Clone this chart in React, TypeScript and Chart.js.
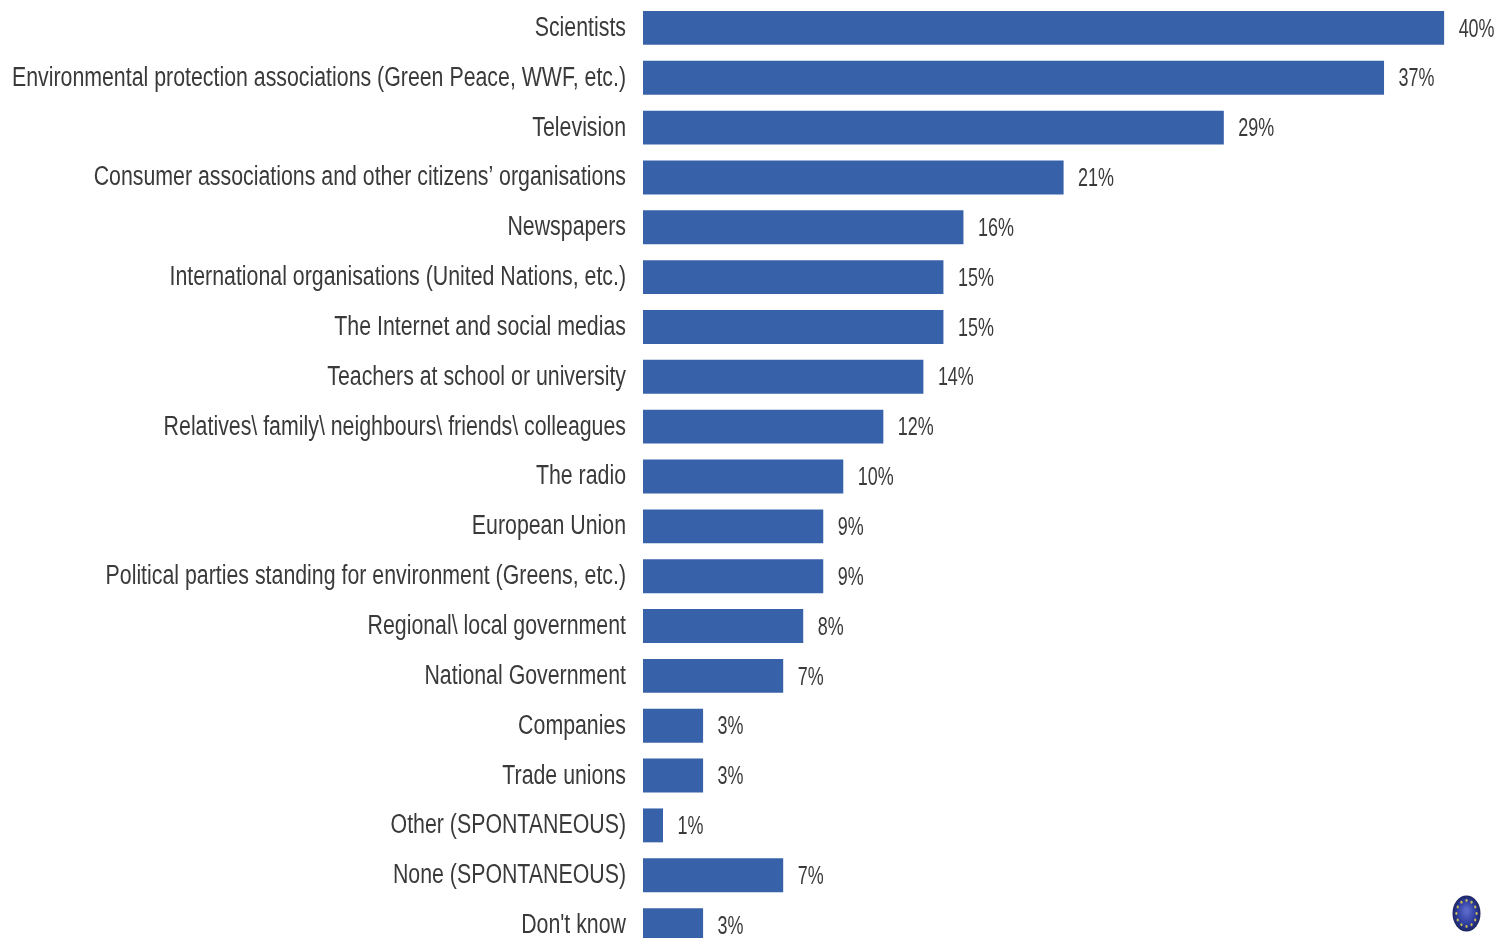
import React, { useEffect, useRef } from "react";
import { Chart, registerables } from "chart.js";
Chart.register(...registerables);

const categories = ["Scientists","Environmental protection associations (Green Peace, WWF, etc.)","Television","Consumer associations and other citizens’ organisations","Newspapers","International organisations (United Nations, etc.)","The Internet and social medias","Teachers at school or university","Relatives\\ family\\ neighbours\\ friends\\ colleagues","The radio","European Union","Political parties standing for environment (Greens, etc.)","Regional\\ local government","National Government","Companies","Trade unions","Other (SPONTANEOUS)","None (SPONTANEOUS)","Don't know"];
const values = [40,37,29,21,16,15,15,14,12,10,9,9,8,7,3,3,1,7,3];
const FONT = "'Liberation Sans', Arial, sans-serif";
const TEXT = "#3a3a3a";

const labelsPlugin = {
  id: "valueLabels",
  afterDatasetsDraw(chart: any) {
    const { ctx } = chart;
    const meta = chart.getDatasetMeta(0);
    const yScale = chart.scales.y;
    ctx.save();
    ctx.fillStyle = TEXT;
    ctx.textBaseline = "middle";
    ctx.font = `26px ${FONT}`;
    ctx.textAlign = "left";
    meta.data.forEach((bar: any, i: number) => {
      ctx.save();
      ctx.translate(bar.x + 14.5, bar.y + 1.5);
      ctx.scale(0.69, 1);
      ctx.fillText(values[i] + "%", 0, 0);
      ctx.restore();
    });
    ctx.font = `27px ${FONT}`;
    ctx.textAlign = "right";
    categories.forEach((label, i) => {
      ctx.save();
      ctx.translate(626, yScale.getPixelForTick(i) + 0.5);
      ctx.scale(0.79, 1);
      ctx.fillText(label, 0, 0);
      ctx.restore();
    });
    ctx.restore();
  },
};

const emblemPlugin = {
  id: "emblem",
  afterDraw(chart: any) {
    const { ctx } = chart;
    const cx = 1466.5, cy = 913.5, rx = 14, ry = 18;
    ctx.save();
    ctx.translate(cx, cy);
    ctx.scale(rx / ry, 1);
    const g = ctx.createRadialGradient(0, -3, 2, 0, 0, ry);
    g.addColorStop(0, "#5a68c8");
    g.addColorStop(0.65, "#2c3a9c");
    g.addColorStop(1, "#1c2560");
    ctx.fillStyle = g;
    ctx.beginPath();
    ctx.arc(0, 0, ry, 0, Math.PI * 2);
    ctx.fill();
    ctx.fillStyle = "#c9bd55";
    for (let i = 0; i < 12; i++) {
      const a = (i / 12) * Math.PI * 2;
      ctx.beginPath();
      ctx.arc(Math.cos(a) * 13, Math.sin(a) * 13, 1.4, 0, Math.PI * 2);
      ctx.fill();
    }
    ctx.restore();
  },
};

export default function App() {
  const ref = useRef<HTMLCanvasElement>(null);
  useEffect(() => {
    document.body.style.margin = "0";
    const chart = new Chart(ref.current!, {
      type: "bar",
      data: {
        labels: categories,
        datasets: [{ data: values, backgroundColor: "#3762aa", categoryPercentage: 0.68, barPercentage: 1 }],
      },
      options: {
        indexAxis: "y",
        responsive: false,
        animation: false,
        layout: { padding: { top: 3, bottom: 0, right: 0, left: 0 } },
        plugins: { legend: { display: false }, tooltip: { enabled: false } },
        scales: {
          x: { display: false, min: 0, max: 42.64 },
          y: {
            afterFit(s: any) { s.width = 643; },
            grid: { display: false },
            border: { display: false },
            ticks: { display: false, autoSkip: false },
          },
        },
      },
      plugins: [labelsPlugin, emblemPlugin],
    });
    return () => chart.destroy();
  }, []);
  return (
    <div style={{ width: 1497, height: 938, overflow: "hidden" }}>
      <canvas ref={ref} width={1497} height={950} style={{ display: "block" }} />
    </div>
  );
}
